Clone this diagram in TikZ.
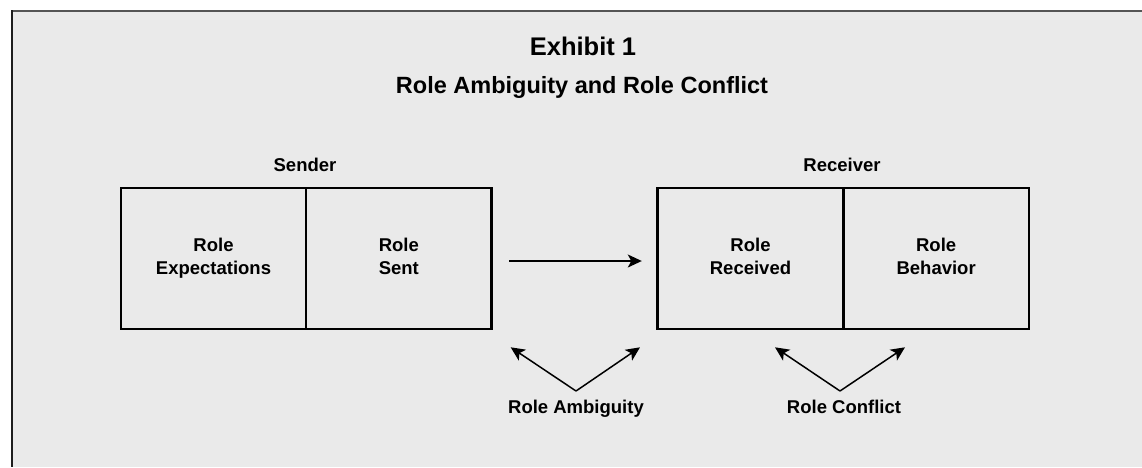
\documentclass[tikz,border=0pt]{standalone}
\usepackage{fontspec}
\setmainfont{Liberation Sans}
\usetikzlibrary{arrows.meta}
\definecolor{bgfill}{HTML}{EAEAEA}
\definecolor{topline}{HTML}{555555}
\definecolor{leftline}{HTML}{1E1E1E}
\tikzset{
  cell/.style={draw=black, line width=2.8pt, minimum height=141pt, inner sep=0pt,
    align=center, font=\bfseries\fontsize{18.5}{23}\selectfont},
  lbl/.style={anchor=base, inner sep=0pt, font=\bfseries\fontsize{18.5}{23}\selectfont},
  arr/.style={line width=1.5pt, -{Stealth[length=14pt,width=13pt,inset=3.5pt]}},
}
\begin{document}
\begin{tikzpicture}[x=1pt,y=-1pt]
\useasboundingbox (0,0) rectangle (1142,467);
\fill[bgfill] (11,10) rectangle (1142,467);
\draw[topline, line width=2pt] (11,10.8) -- (1142,10.8);
\draw[leftline, line width=2pt] (11.8,10) -- (11.8,467);

\node[anchor=base, inner sep=0pt, font=\bfseries\fontsize{25.5}{30}\selectfont] (title) at (583,55.9) {Exhibit 1};
\node[anchor=base, inner sep=0pt, font=\bfseries\fontsize{23.5}{28}\selectfont] (subtitle) at (582,93.4) {Role Ambiguity and Role Conflict};

\node[cell, minimum width=185pt] (exp) at (213.5,258.5) {Role\\Expectations};
\node[cell, minimum width=185.7pt] (sent) at (398.85,258.5) {Role\\Sent\vphantom{p}};
\node[cell, minimum width=185.6pt] (recd) at (750.5,258.5) {Role\\Received\vphantom{p}};
\node[cell, minimum width=185.7pt] (beh) at (936.15,258.5) {Role\\Behavior\vphantom{p}};

\node[lbl] (sender) at (305,171.5) {Sender};
\node[lbl] (receiver) at (842,171.5) {Receiver};

\draw[arr, shorten <=16pt, shorten >=14.5pt] ([yshift=-2.5pt]sent.east) -- ([yshift=-2.5pt]recd.west);

\node[lbl] (amb) at (576,413.3) {Role Ambiguity};
\coordinate (ambapex) at (576,391);
\coordinate (ambl) at (510.7,347.3);
\coordinate (ambr) at (640,347.3);
\draw[arr] (ambapex) -- (ambl);
\draw[arr] (ambapex) -- (ambr);

\node[lbl] (con) at (844,413.3) {Role Conflict};
\coordinate (conapex) at (840,391);
\coordinate (conl) at (775,347.3);
\coordinate (conr) at (905,347.3);
\draw[arr] (conapex) -- (conl);
\draw[arr] (conapex) -- (conr);
\end{tikzpicture}
\end{document}
